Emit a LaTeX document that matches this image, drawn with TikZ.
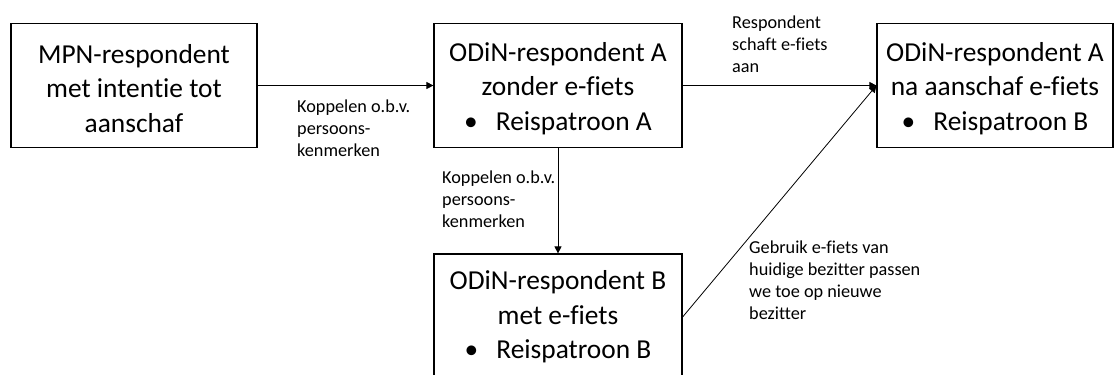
\documentclass[tikz,border=0pt]{standalone}
\usepackage{fontspec}
\setmainfont{Carlito}[Ligatures=NoCommon]
\usetikzlibrary{arrows.meta}
\newcommand{\topstrut}{\rule{0pt}{25bp}}
\begin{document}
\begin{tikzpicture}[x=1bp,y=-1bp,
  box/.style={draw=black, line width=1.2bp, align=center, inner sep=0pt,
    font=\fontsize{27.5}{34.5}\selectfont},
  lbl/.style={align=left, inner sep=0pt, anchor=north west,
    font=\fontsize{18.3}{22}\selectfont},
  conn/.style={draw=black, line width=0.8bp, -{Triangle[length=7bp,width=7bp]}}]
\useasboundingbox (0,0) rectangle (1115,374);
\clip (0,0) rectangle (1115,374);
\node[box, minimum width=246bp, minimum height=124bp] (b1) at (134,85.5)
  {\topstrut MPN-respondent\\met intentie tot\\aanschaf};
\node[box, minimum width=248bp, minimum height=124bp] (b2) at (558,85.5)
  {\topstrut ODiN-respondent A\\zonder e-fiets\\\textbullet\hspace{18bp}Reispatroon A};
\node[box, minimum width=236bp, minimum height=124bp] (b3) at (995,85.5)
  {\topstrut ODiN-respondent A\\na aanschaf e-fiets\\\textbullet\hspace{18bp}Reispatroon B};
\node[box, minimum width=248bp, minimum height=126bp] (b4) at (558,317)
  {ODiN-respondent B\\met e-fiets\\\textbullet\hspace{18bp}Reispatroon B};
\draw[conn] (b1.east) -- (b2.west);
\draw[conn] (b2.east) -- (b3.west);
\draw[conn] (b2.south) -- (b4.north);
\draw[conn] (b4.east) -- (b3.west);
\node[lbl] (l1) at (297,100) {Koppelen o.b.v.\\persoons-\\kenmerken};
\node[lbl] (l2) at (442,171) {Koppelen o.b.v.\\persoons-\\kenmerken};
\node[lbl] (l3) at (732,16) {Respondent\\schaft e-fiets\\aan};
\node[lbl] (l4) at (749,241) {Gebruik e-fiets van\\huidige bezitter passen\\we toe op nieuwe\\bezitter};
\end{tikzpicture}
\end{document}
